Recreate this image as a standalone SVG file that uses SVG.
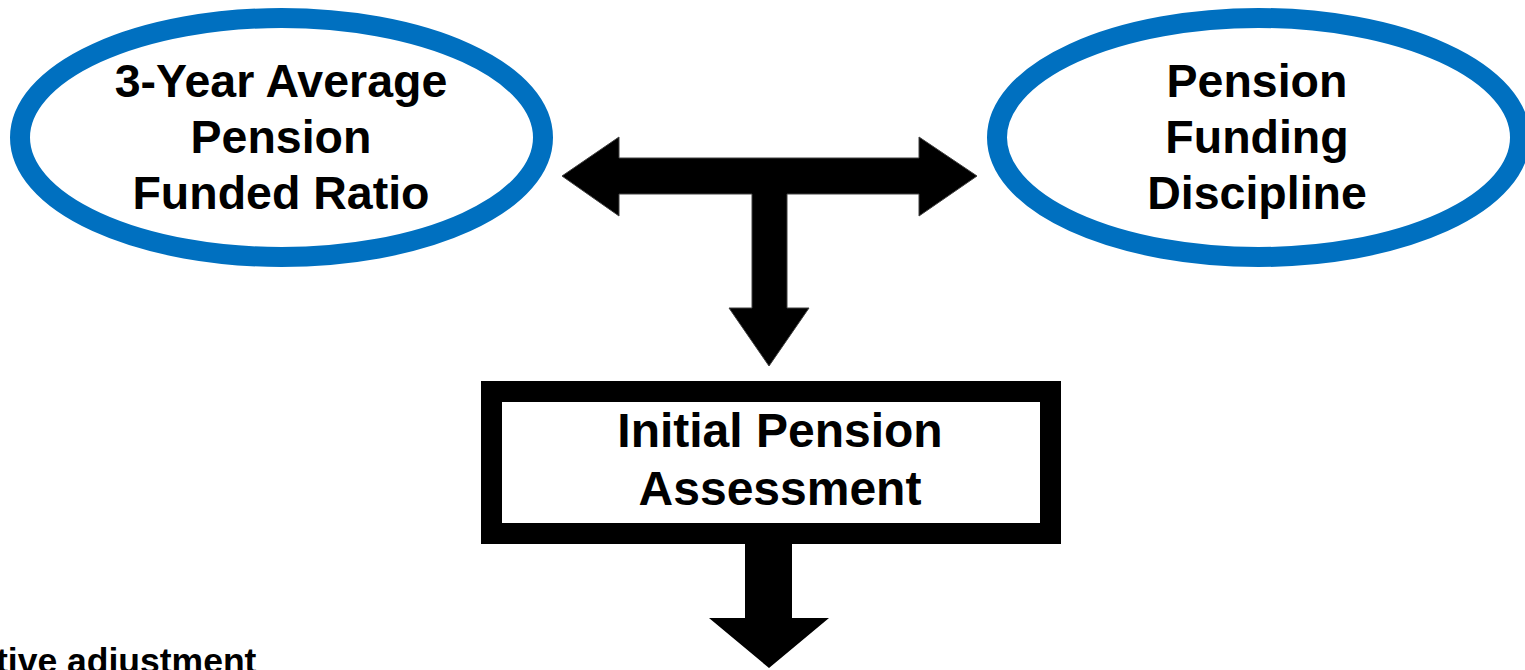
<svg xmlns="http://www.w3.org/2000/svg" width="1525" height="670" viewBox="0 0 1525 670">
  <style>
    .oval { fill: #ffffff; stroke: #0070C0; stroke-width: 20; }
    .box { fill: #ffffff; stroke: #000000; stroke-width: 21; }
    .label { font-family: "Liberation Sans", Arial, sans-serif; font-weight: bold; fill: #000000; text-anchor: middle; }
    .big { font-size: 46.5px; }
    .boxtxt { font-size: 48px; }
    .note { font-family: "Liberation Sans", Arial, sans-serif; font-weight: bold; font-size: 35.5px; fill: #000000; }
    .arrow { fill: #000000; stroke: #404040; stroke-width: 1; stroke-linejoin: miter; }
    .arrow-plain { fill: #000000; }
  </style>
  <rect width="1525" height="670" fill="#ffffff"/>

  <!-- connectors -->
  <g id="connectors">
    <polygon class="arrow" points="562,176 619,137 619,158 919,158 919,137 977,176 919,216 919,194 787,194 787,308 809,308 769,366 729,308 752,308 752,194 619,194 619,216"/>
    <polygon class="arrow-plain" points="745,544 792,544 792,618 829,618 769,668 709,618 745,618"/>
  </g>

  <g id="node-funded-ratio">
    <ellipse class="oval" cx="281.5" cy="137.5" rx="261.5" ry="119.5"/>
    <text class="label big" x="281" y="97">3-Year Average</text>
    <text class="label big" x="281" y="153">Pension</text>
    <text class="label big" x="281" y="209">Funded Ratio</text>
  </g>

  <g id="node-funding-discipline">
    <ellipse class="oval" cx="1258.5" cy="137.5" rx="261.5" ry="119.5"/>
    <text class="label big" x="1257" y="97">Pension</text>
    <text class="label big" x="1257" y="153">Funding</text>
    <text class="label big" x="1257" y="209">Discipline</text>
  </g>

  <g id="node-initial-assessment">
    <rect class="box" x="491.5" y="391.5" width="559" height="142"/>
    <text class="label boxtxt" x="780" y="447">Initial Pension</text>
    <text class="label boxtxt" x="780" y="505">Assessment</text>
  </g>

  <g id="note-adjustment">
    <text class="note" x="-4" y="673">tive adjustment</text>
  </g>
</svg>
